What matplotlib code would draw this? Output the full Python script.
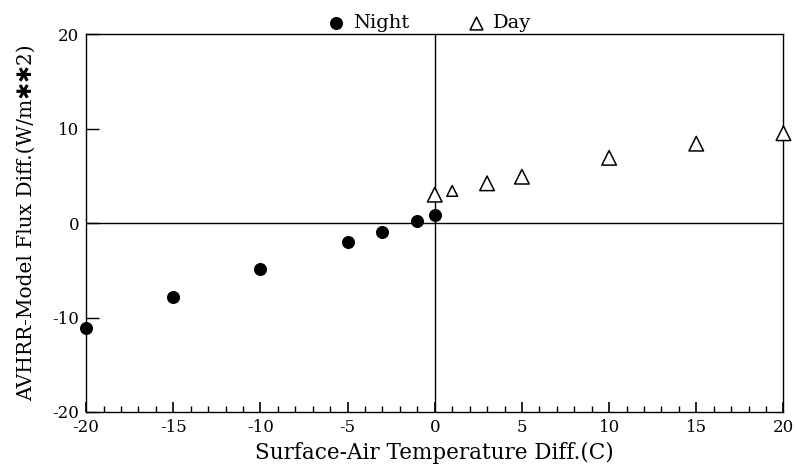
"""Surface-air temperature difference vs AVHRR-model flux difference."""
import matplotlib
matplotlib.use('Agg')
import matplotlib.pyplot as plt
from matplotlib.ticker import MultipleLocator

plt.rcParams['font.family'] = ['DejaVu Serif', 'DejaVu Sans']
plt.rcParams['axes.unicode_minus'] = False

# data
night_x = [-20, -15, -10, -5, -3, -1, 0]
night_y = [-11.1, -7.8, -4.9, -2.0, -1.0, 0.2, 0.85]
day_x = [0, 1, 3, 5, 10, 15, 20]
day_y = [3.0, 3.4, 4.2, 4.9, 6.9, 8.4, 9.5]

x_ticks = [-20, -15, -10, -5, 0, 5, 10, 15, 20]
y_ticks = [-20, -10, 0, 10, 20]

# marker areas (the x=1 triangle is drawn smaller in the original)
day_sizes = [110, 60, 110, 110, 110, 110, 110]

fig = plt.figure(figsize=(7.97, 4.73), dpi=100)
ax = fig.add_axes([0.108, 0.129, 0.875, 0.799])

ax.axhline(0, color='black', linewidth=1.0, zorder=1)
ax.axvline(0, color='black', linewidth=1.0, zorder=1)

ax.scatter(night_x, night_y, s=70, marker='o', color='black',
           label='Night', zorder=3, clip_on=False)
ax.scatter(day_x, day_y, s=day_sizes, marker='^', facecolors='white',
           edgecolors='black', linewidths=1.1, label='Day', zorder=3,
           clip_on=False)

ax.set_xlim(-20, 20)
ax.set_ylim(-20, 20)
ax.set_xticks(x_ticks)
ax.set_yticks(y_ticks)
ax.xaxis.set_minor_locator(MultipleLocator(1))
ax.tick_params(axis='x', which='major', direction='in', length=7,
               width=1.2, top=False, labelsize=12, pad=5)
ax.tick_params(axis='x', which='minor', direction='in', length=4,
               width=1.0, top=False)
ax.tick_params(axis='y', which='major', direction='in', length=9,
               width=1.0, right=False, labelsize=12, pad=5)
for side in ax.spines.values():
    side.set_linewidth(1.0)

ax.set_xlabel('Surface-Air Temperature Diff.(C)', fontsize=15.5, labelpad=4)
ax.set_ylabel('AVHRR-Model Flux Diff.(W/m\u2731\u27312)', fontsize=14.5,
              labelpad=12)

ax.legend(loc='lower center', bbox_to_anchor=(0.49, 0.985), ncol=2,
          frameon=False, fontsize=14, handletextpad=0.3, columnspacing=2.8,
          borderaxespad=0.0, handlelength=1.2)

fig.savefig('out.png', dpi=100)
